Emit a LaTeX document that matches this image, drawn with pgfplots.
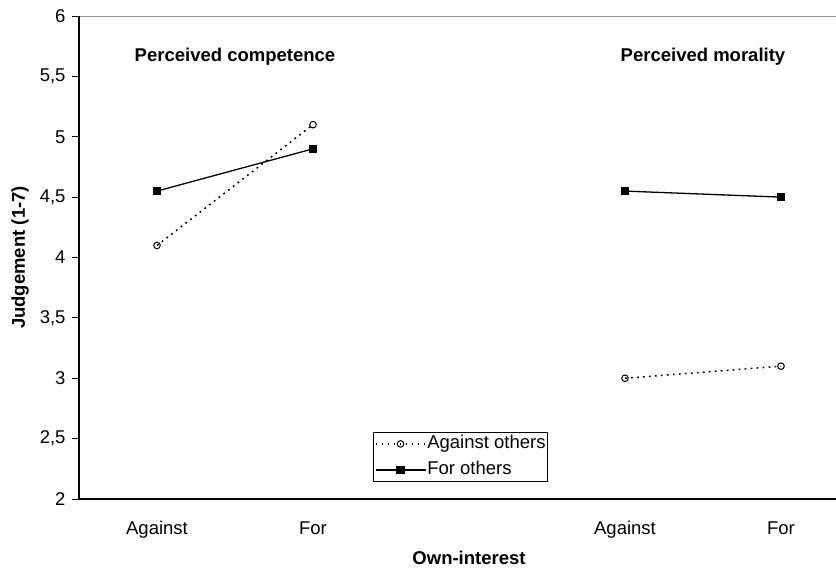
\documentclass[border=0pt]{standalone}
\usepackage{fontspec}
\setmainfont{Liberation Sans}
\usepackage{pgfplots}
\pgfplotsset{compat=1.18}
\begin{document}
\begin{tikzpicture}[font=\fontsize{18.5bp}{21bp}\selectfont]
\begin{axis}[
  at={(0,0)}, anchor=south west,
  scale only axis, width=780bp, height=483bp,
  xmin=0.5, xmax=5.5, ymin=2, ymax=6,
  xtick={1,2,4,5}, xticklabels={Against,For,Against,For},
  ytick={2,2.5,3,3.5,4,4.5,5,5.5,6},
  /pgf/number format/.cd, use comma, fixed, assume math mode=true, /pgfplots/.cd,
  axis line style={draw=gray!80, line width=0.8bp},
  tick align=outside, ytick pos=left, xtick pos=bottom,
  major x tick style={draw=none},
  major y tick style={black, line width=0.8bp},
  major tick length=7bp,
  tick label style={font=\fontsize{18.5bp}{21bp}\selectfont, black},
  xticklabel style={yshift=-12bp, text height=13bp, text depth=4bp},
  yticklabel style={xshift=-3bp},
  xlabel={\bfseries Own-interest},
  ylabel={\bfseries Judgement (1-7)},
  label style={font=\fontsize{18.5bp}{21bp}\selectfont},
  every axis x label/.style={at={(axis description cs:0.5,0)}, anchor=center, yshift=-59bp},
  every axis y label/.style={at={(axis description cs:-0.0756,0.5)}, anchor=center, rotate=90},
  legend style={at={(axis cs:2.387,2.555)}, anchor=north west, draw=black, line width=0.8bp,
    font=\fontsize{18.5bp}{21bp}\selectfont, inner xsep=1bp, inner ysep=2bp, row sep=7bp,
    nodes={inner sep=1bp, text height=13bp, text depth=4bp},
    legend cell align=left},
  legend image code/.code={
    \draw[#1] (0bp,0bp) -- (50bp,0bp);
    \draw[#1, solid] plot coordinates {(25bp,0bp)};
  },
  clip=false,
]
\addplot[black, line width=1.5bp, dash pattern=on 1.8bp off 4.2bp,
  mark=o, mark size=3.3bp, mark options={solid, fill=white, line width=1bp}]
  coordinates {(1,4.1) (2,5.1)};
\addlegendentry{Against others}
\addplot[black, line width=1.3bp, mark=square*, mark size=3.5bp, mark options={solid}]
  coordinates {(1,4.55) (2,4.9)};
\addlegendentry{For others}
\addplot[black, line width=1.5bp, dash pattern=on 1.8bp off 4.2bp,
  mark=o, mark size=3.3bp, mark options={solid, fill=white, line width=1bp}, forget plot]
  coordinates {(4,3.0) (5,3.1)};
\addplot[black, line width=1.3bp, mark=square*, mark size=3.5bp, mark options={solid}, forget plot]
  coordinates {(4,4.55) (5,4.5)};
\draw[black, line width=1.2bp] (rel axis cs:0,1) -- (rel axis cs:0,0) -- (rel axis cs:1,0);
\node[font=\fontsize{18.5bp}{21bp}\selectfont\bfseries] at (axis cs:1.5,5.66) {Perceived competence};
\node[font=\fontsize{18.5bp}{21bp}\selectfont\bfseries] at (axis cs:4.5,5.66) {Perceived morality};
\end{axis}
\pgfresetboundingbox
\path[use as bounding box] (-79bp,-70bp) rectangle (757bp,499bp);
\end{tikzpicture}
\end{document}
